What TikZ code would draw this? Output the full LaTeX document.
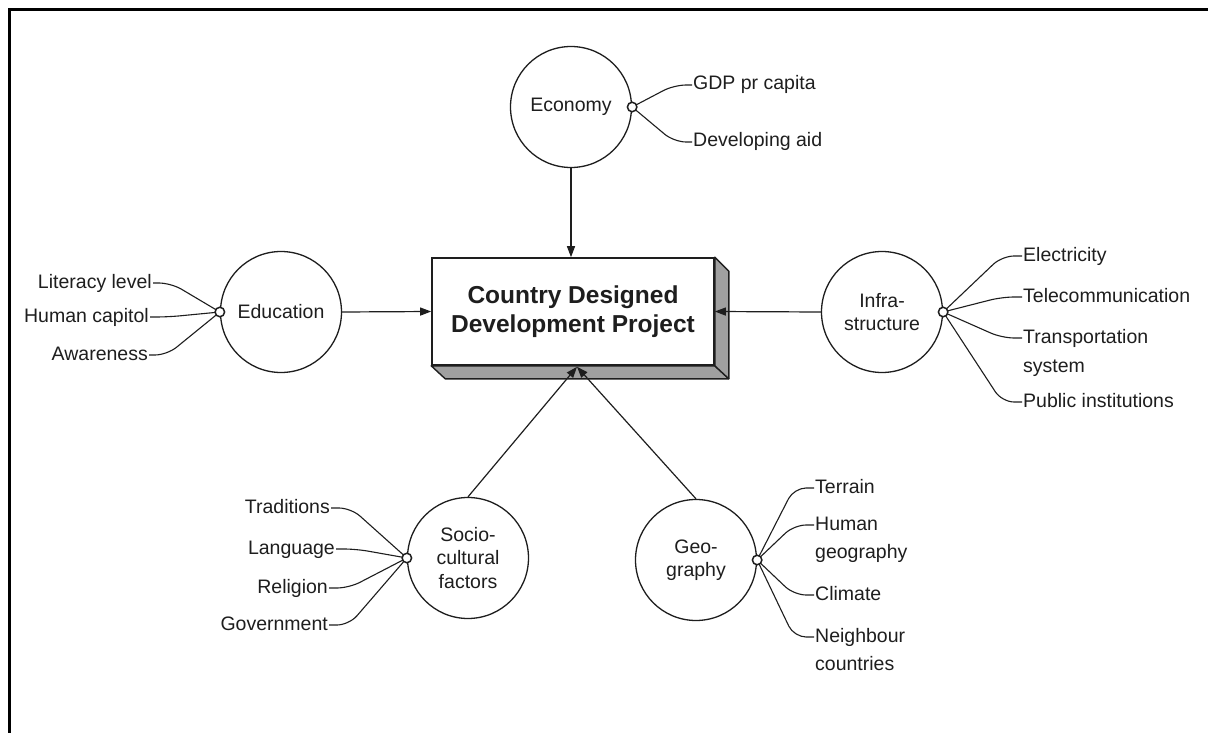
\documentclass[tikz,border=0pt]{standalone}
\usepackage{fontspec}
\setmainfont{Liberation Sans}
\usetikzlibrary{arrows.meta,calc}
\definecolor{bevel}{RGB}{160,160,160}
\definecolor{ink}{RGB}{30,30,30}
% a leaf connector: label point, horizontal stub length, hub
\newcommand\twig[3]{\draw[twigline] (#1) -- ($(#1)+(#2,0)$) -- (#3);}
\begin{document}
\begin{tikzpicture}[x=1pt,y=-1pt,
  txt/.style={font=\fontsize{19.5}{23.5}\selectfont, text=ink},
  lbl/.style={txt, inner sep=1pt, text height=14pt, text depth=4pt},
  topic/.style={txt, draw=ink, circle, line width=1.3pt, minimum size=121pt, inner sep=0pt, align=center},
  hub/.style={draw=ink, circle, fill=white, line width=1.5pt, minimum size=9.5pt, inner sep=0pt},
  twigline/.style={draw=ink, line width=1.1pt, rounded corners=12pt},
  feed/.style={draw=ink, line width=1.2pt, -{Triangle[length=11pt,width=8pt]}},
  project/.style={draw=ink, fill=white, line width=1.6pt, minimum width=282pt, minimum height=107pt,
    align=center, font=\fontsize{24.5}{29}\selectfont\bfseries, text=ink},
  ]
\useasboundingbox (0,0) rectangle (1208,733);
\fill[white] (0,0) rectangle (1208,733);
% frame
\draw[line width=3pt] (1215,10) -- (9.5,10) -- (9.5,740);

% central block with bevelled edges
\node[project] (proj) at (573,311.5) {Country Designed\\Development Project};
\filldraw[fill=bevel, draw=ink, line width=1.4pt, line join=round]
  (proj.south west) -- ++(14,13) -- ($(proj.south east)+(14,13)$) -- (proj.south east) -- cycle;
\filldraw[fill=bevel, draw=ink, line width=1.4pt, line join=round]
  (proj.north east) -- ++(14,14) -- ($(proj.south east)+(14,13)$) -- (proj.south east) -- cycle;
\coordinate (meet) at ($(proj.south)+(4,1)$);

% factor circles
\node[topic] (eco) at (571,107) {Economy};
\node[topic] (edu) at (281,312) {Education};
\node[topic] (inf) at (882,312) {Infra-\\structure};
\node[topic] (soc) at (468,558) {Socio-\\cultural\\factors};
\node[topic] (geo) at (696,560) {Geo-\\graphy};

% influences on the project
\draw[feed] (eco.south) -- (eco.south |- proj.north);
\draw[feed] (edu.east) -- (proj.west);
\draw[feed] (inf.west) -- (proj.east);
\draw[feed] (soc.north) -- (meet);
\draw[feed] (geo.north) -- (meet);

% economy
\node[lbl, anchor=west] (gdp) at (692,85) {GDP pr capita};
\node[lbl, anchor=west] (aid) at (692,142) {Developing aid};
\twig{gdp.west}{-18}{eco.east}
\twig{aid.west}{-18}{eco.east}
\node[hub] at (eco.east) {};

% education
\node[lbl, anchor=east] (lit) at (153,283) {Literacy level};
\node[lbl, anchor=east] (hum) at (150,317) {Human capitol};
\node[lbl, anchor=east] (awa) at (149,355) {Awareness};
\twig{lit.east}{18}{edu.west}
\twig{hum.east}{18}{edu.west}
\twig{awa.east}{18}{edu.west}
\node[hub] at (edu.west) {};

% infrastructure
\node[lbl, anchor=west] (ele) at (1022,256) {Electricity};
\node[lbl, anchor=west] (tel) at (1022,297) {Telecommunication};
\node[lbl, anchor=west] (tra) at (1022,338) {Transportation};
\node[lbl, anchor=west] (sys) at (1022,367) {system};
\node[lbl, anchor=west] (pub) at (1022,402) {Public institutions};
\twig{ele.west}{-20}{inf.east}
\twig{tel.west}{-20}{inf.east}
\twig{tra.west}{-20}{inf.east}
\twig{pub.west}{-20}{inf.east}
\node[hub] at (inf.east) {};

% socio-cultural factors
\node[lbl, anchor=east] (tdn) at (331,508) {Traditions};
\node[lbl, anchor=east] (lng) at (336,549) {Language};
\node[lbl, anchor=east] (rlg) at (329,588) {Religion};
\node[lbl, anchor=east] (gov) at (329,625) {Government};
\twig{tdn.east}{20}{soc.west}
\twig{lng.east}{20}{soc.west}
\twig{rlg.east}{20}{soc.west}
\twig{gov.east}{20}{soc.west}
\node[hub] at (soc.west) {};

% geography
\node[lbl, anchor=west] (ter) at (814,488) {Terrain};
\node[lbl, anchor=west] (hgy) at (814,525) {Human};
\node[lbl, anchor=west] (hg2) at (814,553) {geography};
\node[lbl, anchor=west] (cli) at (814,595) {Climate};
\node[lbl, anchor=west] (nei) at (814,637) {Neighbour};
\node[lbl, anchor=west] (cou) at (814,665) {countries};
\twig{ter.west}{-20}{geo.east}
\twig{hgy.west}{-20}{geo.east}
\twig{cli.west}{-20}{geo.east}
\twig{nei.west}{-20}{geo.east}
\node[hub] at (geo.east) {};
\end{tikzpicture}
\end{document}
